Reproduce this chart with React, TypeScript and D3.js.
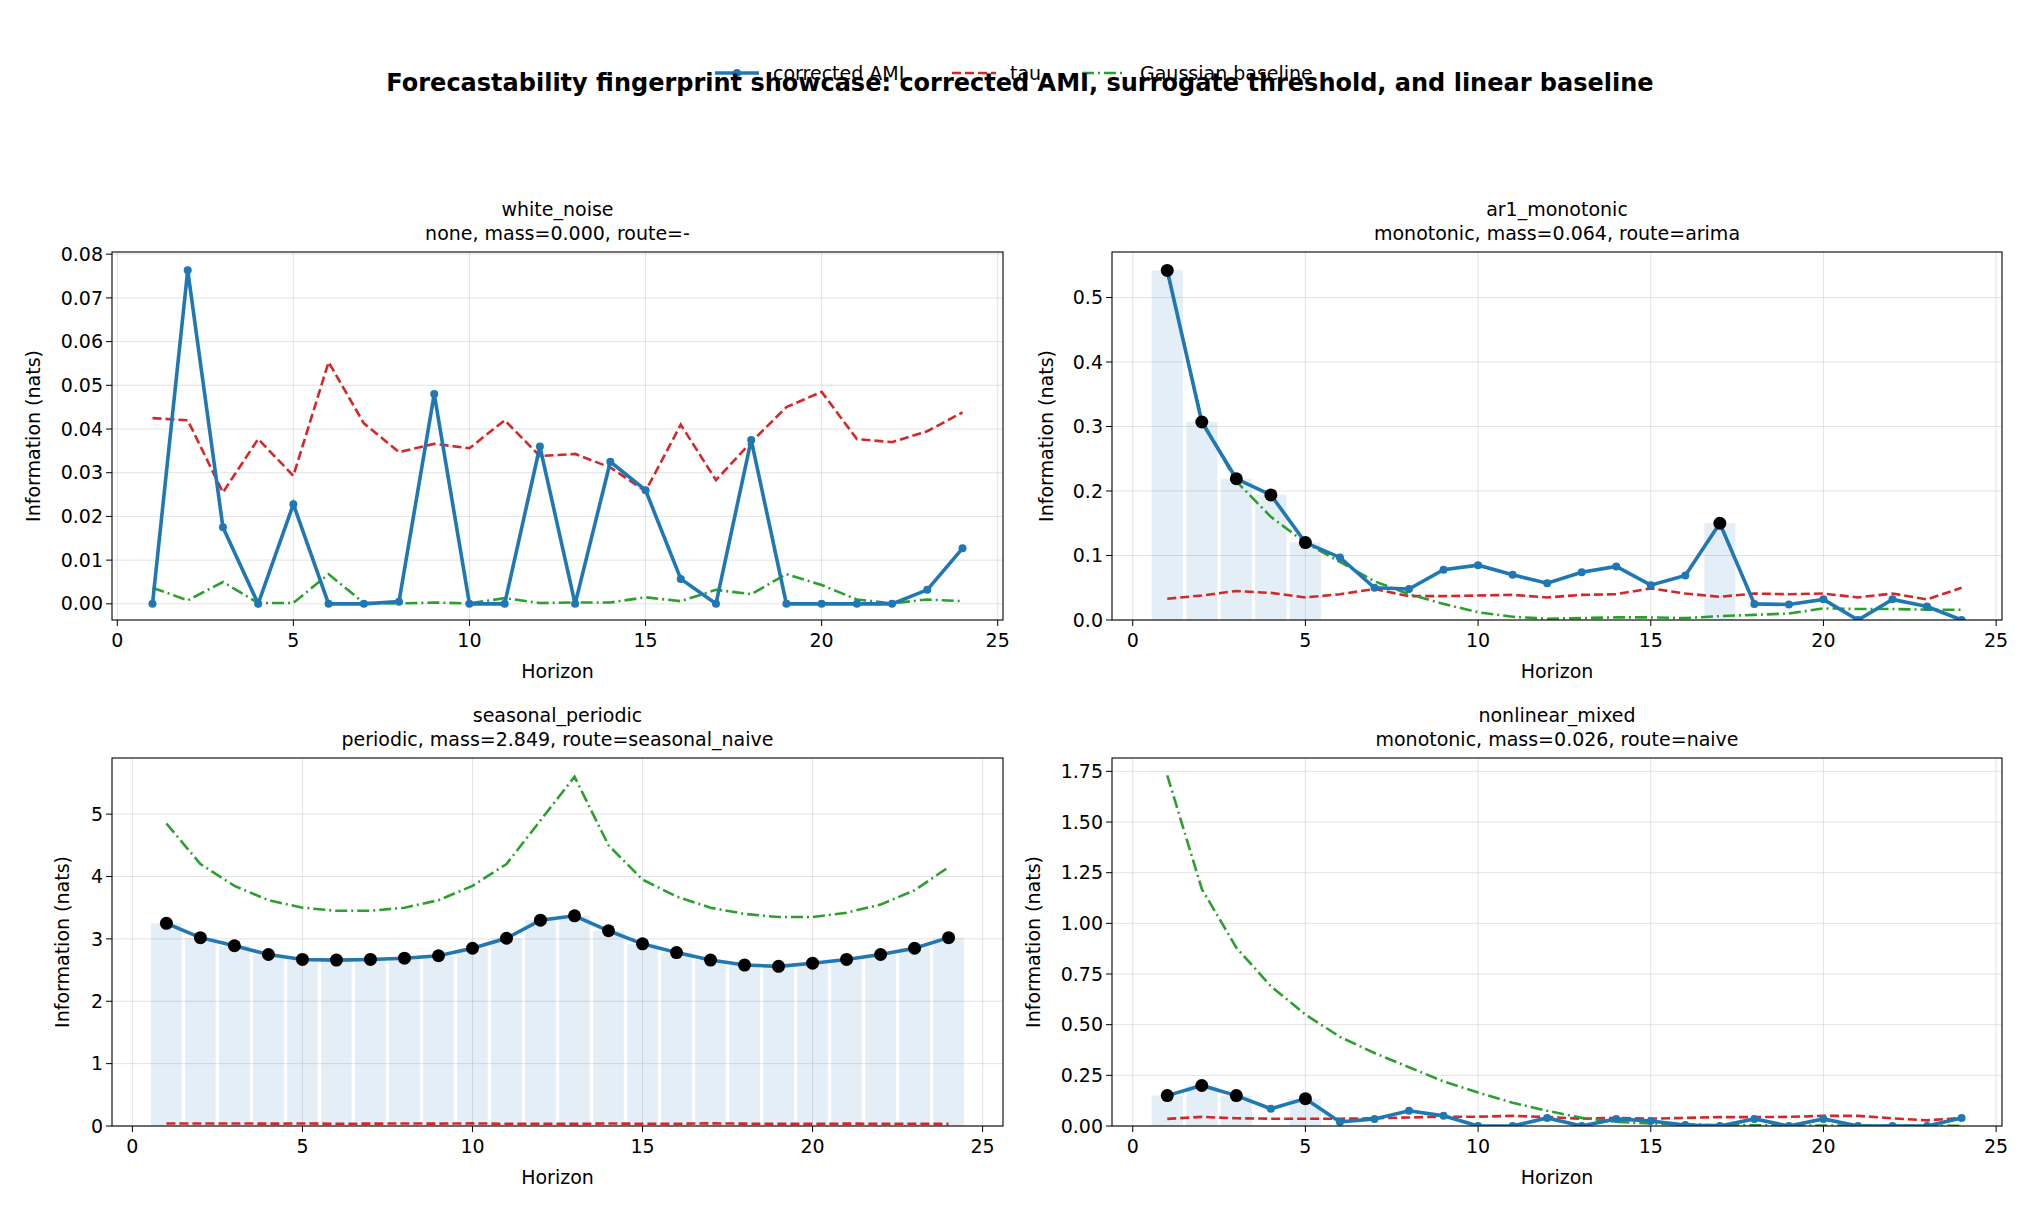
import React from 'react';
import * as d3 from 'd3';

const horizons = d3.range(1, 25);

const wnAmi = [0, 0.0763, 0.0175, 0, 0.0228, 0, 0, 0.0005, 0.048, 0, 0, 0.036, 0, 0.0325, 0.026, 0.0057, 0, 0.0375, 0, 0, 0, 0, 0.0032, 0.0127];
const wnTau = [0.0425, 0.042, 0.0255, 0.0377, 0.0293, 0.0553, 0.0413, 0.0347, 0.0366, 0.0356, 0.042, 0.0338, 0.0343, 0.0312, 0.0258, 0.041, 0.0283, 0.037, 0.045, 0.0485, 0.0377, 0.037, 0.0395, 0.0438];
const wnGauss = [0.0037, 0.0008, 0.005, 0.0002, 0.0002, 0.0068, 0.0002, 0.0001, 0.0003, 0.0001, 0.0013, 0.0002, 0.0003, 0.0003, 0.0015, 0.0006, 0.0032, 0.0022, 0.0068, 0.0043, 0.001, 0.0001, 0.001, 0.0006];
const wnSig: number[] = [];

const arAmi = [0.542, 0.307, 0.219, 0.194, 0.12, 0.097, 0.05, 0.048, 0.078, 0.085, 0.07, 0.057, 0.074, 0.083, 0.054, 0.069, 0.15, 0.025, 0.024, 0.032, 0.0, 0.032, 0.021, 0.0];
const arTau = [0.033, 0.038, 0.045, 0.042, 0.035, 0.04, 0.048, 0.037, 0.037, 0.038, 0.039, 0.035, 0.039, 0.04, 0.049, 0.041, 0.036, 0.041, 0.04, 0.041, 0.035, 0.041, 0.032, 0.05];
const arGauss = [0.54, 0.31, 0.215, 0.16, 0.12, 0.09, 0.06, 0.04, 0.025, 0.012, 0.005, 0.002, 0.003, 0.004, 0.004, 0.003, 0.006, 0.008, 0.01, 0.018, 0.017, 0.017, 0.016, 0.016];
const arSig = [1, 2, 3, 4, 5, 17];

const seAmi = [3.25, 3.02, 2.89, 2.75, 2.67, 2.66, 2.67, 2.69, 2.73, 2.85, 3.01, 3.3, 3.37, 3.13, 2.92, 2.78, 2.66, 2.58, 2.56, 2.61, 2.67, 2.75, 2.85, 3.02];
const seTau = [0.04, 0.04, 0.04, 0.038, 0.04, 0.036, 0.038, 0.04, 0.038, 0.042, 0.036, 0.036, 0.034, 0.04, 0.036, 0.036, 0.042, 0.038, 0.034, 0.034, 0.038, 0.036, 0.036, 0.034];
const seGauss = [4.85, 4.2, 3.85, 3.62, 3.5, 3.45, 3.45, 3.5, 3.62, 3.85, 4.2, 4.9, 5.6, 4.5, 3.95, 3.68, 3.5, 3.4, 3.35, 3.35, 3.42, 3.55, 3.78, 4.15];
const seSig = horizons;

const nlAmi = [0.15, 0.2, 0.15, 0.085, 0.135, 0.02, 0.035, 0.075, 0.05, 0.0, 0.0, 0.04, 0.0, 0.035, 0.025, 0.005, 0.0, 0.035, 0.0, 0.035, 0.0, 0.0, 0.0, 0.04];
const nlTau = [0.035, 0.045, 0.038, 0.036, 0.036, 0.036, 0.038, 0.042, 0.046, 0.046, 0.05, 0.044, 0.036, 0.04, 0.036, 0.04, 0.044, 0.044, 0.045, 0.05, 0.05, 0.038, 0.028, 0.04];
const nlGauss = [1.73, 1.17, 0.88, 0.69, 0.55, 0.44, 0.36, 0.29, 0.22, 0.165, 0.115, 0.075, 0.04, 0.02, 0.012, 0.008, 0.005, 0.004, 0.003, 0.002, 0.002, 0.001, 0.001, 0.001];
const nlSig = [1, 2, 3, 5];

const BLUE = '#1f77b4';
const RED = '#d62728';
const GREEN = '#2ca02c';
const FONT = 'DejaVu Sans, sans-serif';

interface PanelProps {
  x0: number; x1: number; y0: number; y1: number;
  title: string; subtitle: string;
  ami: number[]; tau: number[]; gauss: number[]; sig: number[];
  xDomain: [number, number]; yDomain: [number, number];
  yTicks: number[]; yFmt: string; ylabelX: number;
}

const Panel: React.FC<PanelProps> = (p) => {
  const x = d3.scaleLinear().domain(p.xDomain).range([p.x0, p.x1]);
  const y = d3.scaleLinear().domain(p.yDomain).range([p.y1, p.y0]);
  const fmt = d3.format(p.yFmt);
  const line = (vals: number[]) =>
    d3.line<number>().x((_, i) => x(horizons[i])).y(v => y(v))(vals) as string;
  const xTicks = [0, 5, 10, 15, 20, 25];
  const clip = `clip-${p.title}`;
  return (
    <g fontFamily={FONT}>
      <defs>
        <clipPath id={clip}><rect x={p.x0} y={p.y0} width={p.x1 - p.x0} height={p.y1 - p.y0} /></clipPath>
      </defs>
      <text x={(p.x0 + p.x1) / 2} y={p.y0 - 36} textAnchor="middle" fontSize={19}>{p.title}</text>
      <text x={(p.x0 + p.x1) / 2} y={p.y0 - 12} textAnchor="middle" fontSize={19}>{p.subtitle}</text>
      {xTicks.map(t => (
        <g key={'x' + t}>
          <line x1={x(t)} x2={x(t)} y1={p.y0} y2={p.y1} stroke="#b0b0b0" strokeOpacity={0.35} />
          <line x1={x(t)} x2={x(t)} y1={p.y1} y2={p.y1 + 6} stroke="#000" />
          <text x={x(t)} y={p.y1 + 27} textAnchor="middle" fontSize={19}>{t}</text>
        </g>
      ))}
      {p.yTicks.map(t => (
        <g key={'y' + t}>
          <line x1={p.x0} x2={p.x1} y1={y(t)} y2={y(t)} stroke="#b0b0b0" strokeOpacity={0.35} />
          <line x1={p.x0 - 6} x2={p.x0} y1={y(t)} y2={y(t)} stroke="#000" />
          <text x={p.x0 - 9} y={y(t)} dy="0.35em" textAnchor="end" fontSize={19}>{fmt(t)}</text>
        </g>
      ))}
      <g clipPath={`url(#${clip})`}>
        {p.sig.map(h => (
          <rect key={'b' + h} x={x(h - 0.45)} width={x(0.9) - x(0)} y={y(p.ami[h - 1])}
            height={y(0) - y(p.ami[h - 1])} fill={BLUE} fillOpacity={0.12} />
        ))}
        <path d={line(p.tau)} fill="none" stroke={RED} strokeWidth={2.6} strokeDasharray="9,4" />
        <path d={line(p.gauss)} fill="none" stroke={GREEN} strokeWidth={2.6} strokeDasharray="12,4,2,4" />
        <path d={line(p.ami)} fill="none" stroke={BLUE} strokeWidth={3.6} />
        {p.ami.map((v, i) => (
          <circle key={'m' + i} cx={x(horizons[i])} cy={y(v)} r={4} fill={BLUE} />
        ))}
        {p.sig.map(h => (
          <circle key={'s' + h} cx={x(h)} cy={y(p.ami[h - 1])} r={6.5} fill="#000" />
        ))}
      </g>
      <rect x={p.x0} y={p.y0} width={p.x1 - p.x0} height={p.y1 - p.y0} fill="none" stroke="#000" strokeWidth={1.1} />
      <text x={(p.x0 + p.x1) / 2} y={p.y1 + 58} textAnchor="middle" fontSize={19}>Horizon</text>
      <text transform={`translate(${p.ylabelX},${(p.y0 + p.y1) / 2}) rotate(-90)`} textAnchor="middle" fontSize={19}>Information (nats)</text>
    </g>
  );
};

const App: React.FC = () => {
  const L = [112, 1003];
  const R = [1112, 2002];
  const T = [252, 620];
  const B = [758, 1126];
  const legend = [
    { label: 'corrected AMI', color: BLUE, dash: '', w: 3.6, marker: true },
    { label: 'tau', color: RED, dash: '9,4', w: 2.6, marker: false },
    { label: 'Gaussian baseline', color: GREEN, dash: '12,4,2,4', w: 2.6, marker: false },
  ];
  const legendX = [715, 952, 1082];
  return (
    <svg width={2040} height={1208} style={{ display: 'block', margin: '-8px' }} fontFamily={FONT}>
      <rect width={2040} height={1208} fill="#fff" />
      {legend.map((l, i) => (
        <g key={l.label} transform={`translate(${legendX[i]},73)`}>
          <line x1={0} x2={44} y1={0} y2={0} stroke={l.color} strokeWidth={l.w} strokeDasharray={l.dash} />
          {l.marker && <circle cx={22} cy={0} r={4} fill={l.color} />}
          <text x={58} y={0} dy="0.35em" fontSize={19}>{l.label}</text>
        </g>
      ))}
      <text x={1020} y={91} textAnchor="middle" fontSize={24} fontWeight="bold">
        Forecastability fingerprint showcase: corrected AMI, surrogate threshold, and linear baseline
      </text>
      <Panel x0={L[0]} x1={L[1]} y0={T[0]} y1={T[1]} title="white_noise" subtitle="none, mass=0.000, route=-"
        ami={wnAmi} tau={wnTau} gauss={wnGauss} sig={wnSig} xDomain={[-0.15, 25.15]} yDomain={[-0.0037, 0.0805]}
        yTicks={d3.range(0, 0.0801, 0.01)} yFmt=".2f" ylabelX={40} />
      <Panel x0={R[0]} x1={R[1]} y0={T[0]} y1={T[1]} title="ar1_monotonic" subtitle="monotonic, mass=0.064, route=arima"
        ami={arAmi} tau={arTau} gauss={arGauss} sig={arSig} xDomain={[-0.6, 25.17]} yDomain={[0, 0.5706]}
        yTicks={[0, 0.1, 0.2, 0.3, 0.4, 0.5]} yFmt=".1f" ylabelX={1053} />
      <Panel x0={L[0]} x1={L[1]} y0={B[0]} y1={B[1]} title="seasonal_periodic" subtitle="periodic, mass=2.849, route=seasonal_naive"
        ami={seAmi} tau={seTau} gauss={seGauss} sig={seSig} xDomain={[-0.6, 25.6]} yDomain={[0, 5.9]}
        yTicks={[0, 1, 2, 3, 4, 5]} yFmt="d" ylabelX={69} />
      <Panel x0={R[0]} x1={R[1]} y0={B[0]} y1={B[1]} title="nonlinear_mixed" subtitle="monotonic, mass=0.026, route=naive"
        ami={nlAmi} tau={nlTau} gauss={nlGauss} sig={nlSig} xDomain={[-0.6, 25.17]} yDomain={[0, 1.816]}
        yTicks={[0, 0.25, 0.5, 0.75, 1, 1.25, 1.5, 1.75]} yFmt=".2f" ylabelX={1040} />
    </svg>
  );
};

export default App;
